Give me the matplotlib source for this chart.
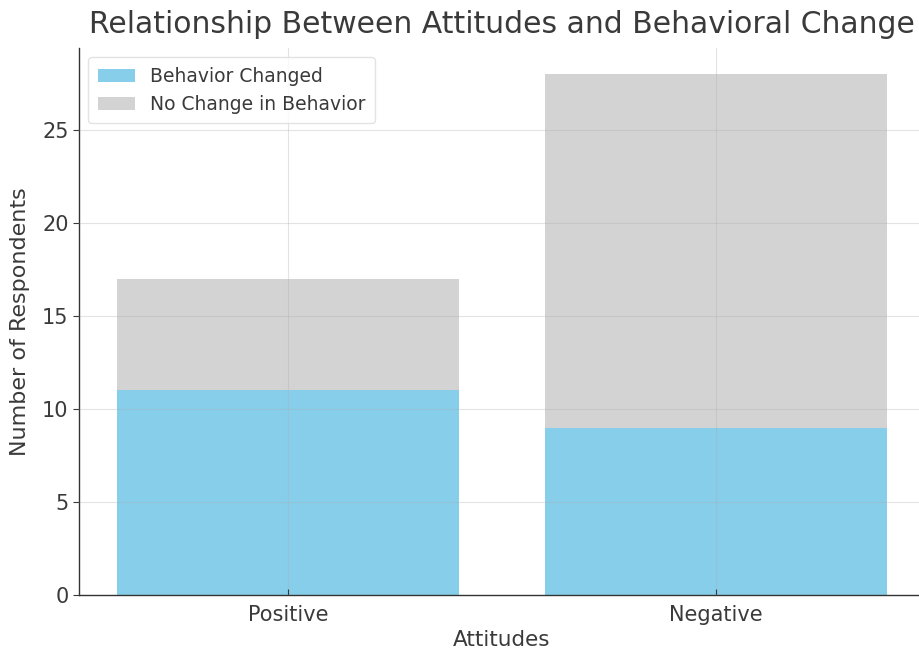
import matplotlib
matplotlib.use("Agg")
import matplotlib.pyplot as plt
import numpy as np

# Survey counts by attitude
attitudes = ["Positive", "Negative"]
changed = [11, 9]
no_change = [6, 19]

text_col = "#3a3a3a"

fig = plt.figure(figsize=(9.19, 6.53), dpi=100)
ax = fig.add_axes([0.086, 0.0888, 0.9206, 0.8377])

x = np.arange(len(attitudes))
ax.bar(x, changed, width=0.8, color="skyblue", label="Behavior Changed", zorder=2)
ax.bar(x, no_change, width=0.8, bottom=changed, color="lightgray",
       label="No Change in Behavior", zorder=2)

ax.grid(True, color="#b0b0b0", linewidth=0.8, alpha=0.35, zorder=3)
ax.set_axisbelow(False)

ax.set_xticks(x)
ax.set_xticklabels(attitudes)
ax.set_yticks([0, 5, 10, 15, 20, 25])
ax.tick_params(axis="both", labelsize=15, colors=text_col, length=4, width=0.8)
ax.tick_params(axis="x", direction="in", pad=7)

ax.set_xlabel("Attitudes", fontsize=15.5, color=text_col, labelpad=4)
ax.set_ylabel("Number of Respondents", fontsize=16, color=text_col, labelpad=9)
ax.set_title("Relationship Between Attitudes and Behavioral Change",
             fontsize=21.5, color=text_col, pad=11)

for side in ["top", "right"]:
    ax.spines[side].set_visible(False)
for side in ["left", "bottom"]:
    ax.spines[side].set_color("#333333")
    ax.spines[side].set_linewidth(1.0)

leg = ax.legend(loc="upper left", fontsize=13.5, frameon=True, borderpad=0.5,
                handlelength=2.0, labelspacing=0.5, borderaxespad=0.5)
leg.get_frame().set_edgecolor("#dddddd")
for t in leg.get_texts():
    t.set_color(text_col)

fig.savefig("out.png", dpi=100)
